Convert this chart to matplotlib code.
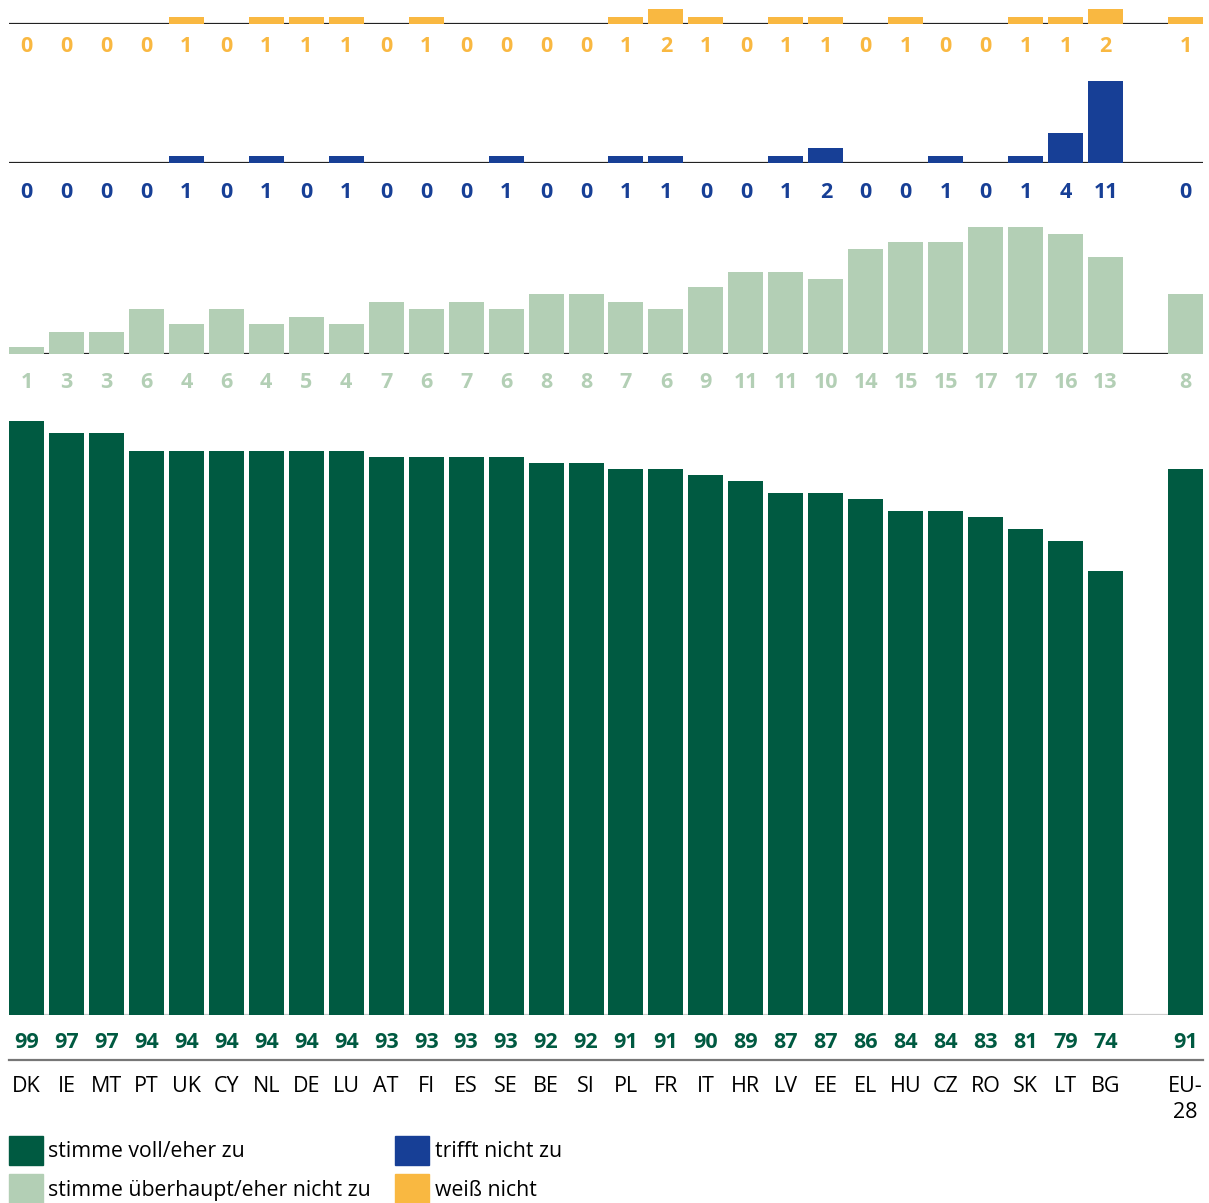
import matplotlib.pyplot as plt
from matplotlib.patches import Patch

plt.rcParams['font.family'] = ['Open Sans', 'DejaVu Sans']

countries = ['DK', 'IE', 'MT', 'PT', 'UK', 'CY', 'NL', 'DE', 'LU', 'AT', 'FI', 'ES', 'SE', 'BE',
             'SI', 'PL', 'FR', 'IT', 'HR', 'LV', 'EE', 'EL', 'HU', 'CZ', 'RO', 'SK', 'LT', 'BG', 'EU-\n28']
agree = [99, 97, 97, 94, 94, 94, 94, 94, 94, 93, 93, 93, 93, 92, 92, 91, 91, 90, 89, 87, 87, 86,
         84, 84, 83, 81, 79, 74, 91]
disagree = [1, 3, 3, 6, 4, 6, 4, 5, 4, 7, 6, 7, 6, 8, 8, 7, 6, 9, 11, 11, 10, 14, 15, 15, 17, 17,
            16, 13, 8]
not_apply = [0, 0, 0, 0, 1, 0, 1, 0, 1, 0, 0, 0, 1, 0, 0, 1, 1, 0, 0, 1, 2, 0, 0, 1, 0, 1, 4, 11, 0]
dont_know = [0, 0, 0, 0, 1, 0, 1, 1, 1, 0, 1, 0, 0, 0, 0, 1, 2, 1, 0, 1, 1, 0, 1, 0, 0, 1, 1, 2, 1]

labels = ['stimme voll/eher zu', 'stimme überhaupt/eher nicht zu', 'trifft nicht zu', 'weiß nicht']
c_agree = '#005a41'
c_dis = '#b3cfb5'
c_na = '#173f96'
c_dk = '#f9b841'

xs = list(range(28)) + [29]

W, H = 1209, 1203
fig = plt.figure(figsize=(W / 100, H / 100), dpi=100)


def make_ax(top_px, base_px, px_per_unit):
    ax = fig.add_axes([9 / W, (H - base_px) / H, 1194 / W, (base_px - top_px) / H])
    ax.set_xlim(-0.4375, 29.4375)
    ax.set_ylim(0, (base_px - top_px) / px_per_unit)
    ax.axis('off')
    return ax


panels = [
    (0, 24, 7.5, dont_know, c_dk, 23, '#222222'),
    (70, 163, 7.5, not_apply, c_na, 29, '#222222'),
    (210, 354, 7.5, disagree, c_dis, 29, '#222222'),
    (410, 1015, 6.0, agree, c_agree, 28, '#cccccc'),
]

for top, base, ppu, vals, col, off, lc in panels:
    ax = make_ax(top, base, ppu)
    ax.bar(xs, vals, width=0.875, color=col, zorder=2)
    ax.axhline(0, color=lc, lw=1.6, zorder=1)
    for x, v in zip(xs, vals):
        ax.annotate(str(v), (x, 0), xytext=(0, -off), textcoords='offset pixels',
                    ha='center', va='center', fontsize=15.5, fontweight='bold', color=col,
                    annotation_clip=False)

# bottom axis: gray separator and country labels
ax.axhline(-45 / 6.0, color='#777777', lw=1.6, clip_on=False)
for x, c in zip(xs, countries):
    ax.annotate(c, (x, 0), xytext=(0, -61), textcoords='offset pixels',
                ha='center', va='top', fontsize=15.5, color='black', linespacing=1.3,
                annotation_clip=False)

handles = [Patch(color=c_agree), Patch(color=c_dis), Patch(color=c_na), Patch(color=c_dk)]
fig.legend(handles, labels, ncol=2, loc='upper left', bbox_to_anchor=(0.0, (H - 1127) / H),
           frameon=False, fontsize=15.3, handlelength=1.6, handleheight=1.75,
           handletextpad=0.25, labelspacing=0.45, columnspacing=1.17, borderaxespad=0,
           borderpad=0.4)

fig.savefig('out.png', dpi=100)
